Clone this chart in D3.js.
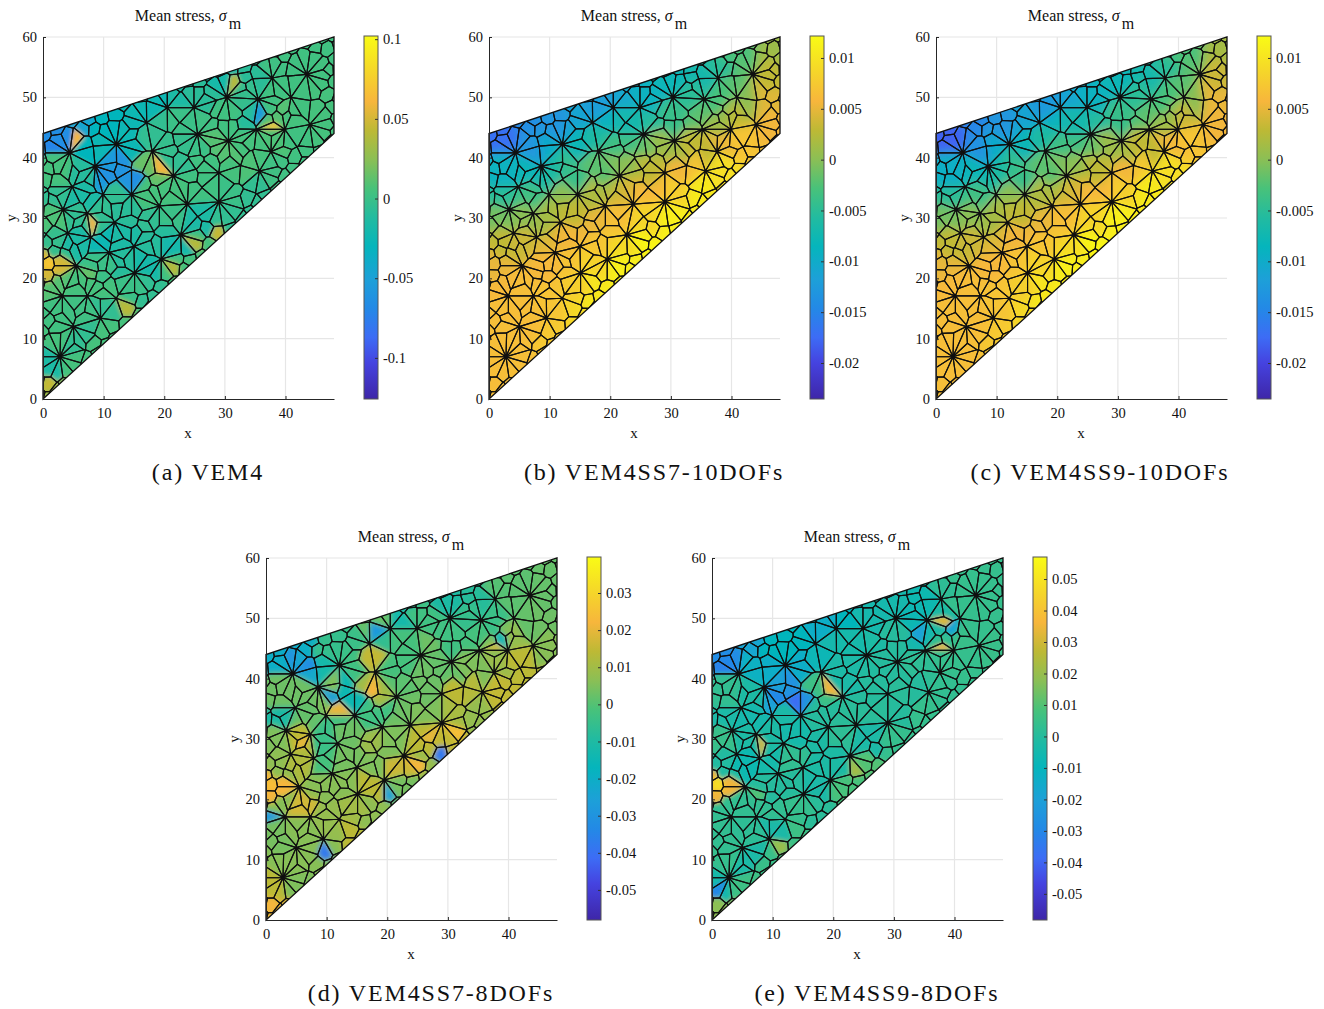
<!DOCTYPE html>
<html lang="en">
<head>
<meta charset="UTF-8">
<title>Mean stress panels</title>
<script src="https://d3js.org/d3.v7.min.js"></script>
<style>
    body { margin: 0; background: #fff; }
    text { font-family: "Liberation Serif", serif; fill: #111; }
    .axis text { font-size: 14.5px; font-family: "Liberation Serif", serif; }
    .bar-axis text { font-size: 14.5px; }
    .caption { font-size: 24px; letter-spacing: 1.85px; text-anchor: middle; }
    .title { font-size: 16px; text-anchor: middle; }
    .label { font-size: 15px; text-anchor: middle; }
</style>
</head>
<body>
<svg id="chart" width="1324" height="1009"></svg>
<script>
// panel order: a, b, c, d, e
const captions = ["(a) VEM4", "(b) VEM4SS7-10DOFs", "(c) VEM4SS9-10DOFs", "(d) VEM4SS7-8DOFs", "(e) VEM4SS9-8DOFs"];
const captionCentres = [208, 654, 1100, 431, 877];
const plotLefts = [43, 489, 936, 266, 712];
const plotTops = [37, 37, 37, 558, 558];

const xTicks = [0, 10, 20, 30, 40];
const yTicks = [0, 10, 20, 30, 40, 50, 60];
const barRanges = [[-0.1258, 0.102], [-0.02354, 0.01216], [-0.02354, 0.01216], [-0.0581, 0.0397], [-0.0583, 0.057]];
const barTicks = [
    [-0.1, -0.05, 0, 0.05, 0.1],
    [-0.02, -0.015, -0.01, -0.005, 0, 0.005, 0.01],
    [-0.02, -0.015, -0.01, -0.005, 0, 0.005, 0.01],
    [-0.05, -0.04, -0.03, -0.02, -0.01, 0, 0.01, 0.02, 0.03],
    [-0.05, -0.04, -0.03, -0.02, -0.01, 0, 0.01, 0.02, 0.03, 0.04, 0.05]
];

const membrane = [[0, 0], [48, 44], [48, 60], [0, 44]];

// high valence mesh nodes
const hubs = [[12.1,42.2],[4.4,40.8],[18,41.1],[17.1,45.8],[20.5,48.3],[24.9,48.3],[25.5,43.9],[30.3,50],[35.5,49.7],[40.9,50],
    [43.5,53.8],[37.8,53.2],[35.2,44.7],[30.6,42.8],[39.9,44.7],[44,45.5],[37.6,41],[32.6,38.7],[35.7,37.8],[29,37.5],
    [21.5,37],[8.6,38.6],[4.8,35.2],[9.9,33.9],[14.6,33.9],[19.2,32],[23.8,32.3],[29,32.7],[3.3,31.4],[7.3,30.8],
    [11.8,29.3],[4.1,27.5],[7.9,26.8],[15,25.3],[10.9,24.3],[19.5,23.2],[22.7,27.2],[5.5,22.1],[15.1,20.9],[12.1,16.7],
    [3.2,17.1],[7.3,17.1],[9.5,13.4],[5,12],[2.8,7]];
const extraSeeds = [[46.8,58.2],[47,54.5],[47,50.5],[47,47.3],[1,2.5],[1,5],[1,9.5],[1,13],[3.5,3.8]];

// stress readings in units of 1e-3, rows from y=58 down to y=2 in steps of 4
const readingColumns = [2, 6, 10, 14, 18, 22, 26, 30, 34, 38, 42, 46];
const readingRows = [58, 54, 50, 46, 42, 38, 34, 30, 26, 22, 18, 14, 10, 6, 2];
const rowFirstColumn = [10, 7, 4, 1, 0, 0, 0, 0, 0, 0, 0, 0, 0, 0, 0];

const stressA = [[3,3],[-18,-8,2,3,4],[-25,-15,-8,0,-3,3,4,5],[-45,-30,-25,-5,0,2,3,-10,10,5,5],
    [-65,-30,-25,-25,-5,-3,0,10,5,8,3],[5,-10,-55,-60,15,-5,3,5,8,2],[-5,-15,-15,-5,5,5,3,0,-5],[8,-5,-5,-8,-5,0,-15,-5],
    [-3,-15,-25,-15,-10,-20,5],[50,15,0,-10,-18,5],[10,5,5,0,-5],[3,2,-5,5],[5,-5,5],[-15,5],[30]];
const stressB = [[-3,1],[-8,-7,-5,-2,3],[-12,-10.5,-9,-7.5,-5,-3,0,4.5],[-14,-13,-11,-9,-7,-5.5,-4,-2,1,3,5.5],
    [-17,-13,-10,-8,-6,-3.5,-1.5,1,3,5,7],[-9,-8,-6,-4,-2,0,3,5.5,7,9.5],[-5,-3.5,-2,0,2,4,6,8,10.5],[-1,0,1.5,3,5,6.5,8.5,11],
    [3,3.5,4.5,5.5,7,9,11.5],[5,5.5,6,7,8.5,11],[6,6.5,7,8,10.5],[6.5,6.5,7,9],[6.5,6.5,7.5],[6.5,6.5],[6.5]];
const stressC = [[-3,1.5],[-8,-7,-5,-2,3.5],[-12.5,-11,-9,-7.5,-5,-3,0,5],[-15,-13,-11,-9,-7,-5.5,-4,-2,1,3.5,5.5],
    [-18,-13.5,-10,-8,-6,-3.5,-1.5,1,3,5.5,7],[-9.5,-8,-6,-4,-2,0,3,5.5,7.5,9.5],[-5,-3.5,-2,0,2,4,6,8,10.5],[-1,0,1.5,3,5,6.5,8.5,11],
    [3,3.5,4.5,5.5,7,9,11.5],[5,5.5,6,7,8.5,11],[6,6.5,7,8,10.5],[6.5,6.5,7,9],[6.5,6.5,7.5],[6.5,6.5],[6.5]];
const stressD = [[1,2],[-10,-8,0,1,2],[2,-12,-3,-3,-5,-4,2,3],[-20,-5,-4,-6,-2,3,-3,-2,5,8,6],
    [-20,-22,-12,-3,15,-2,3,2,5,9,14],[3,3,5,-14,10,1,3,14,13,15],[-10,2,3,-3,-3,3,5,11,8],[5,14,-4,3,9,5,14,15],
    [7,12,-2,4,5,16,8],[22,8,6,6,14,4],[6,17,8,10,7],[4,6,8,14],[6,6,6],[14,5],[20]];
const stressE = [[4,4],[-5,-6,2,4,4],[-14,-10,-5,-2,-7,-2,4,4],[-18,-10,-10,-5,-4,-2,0,-5,3,5,5],
    [-28,-12,-14,-14,-8,-3,-1,0,2,4,4],[3,-2,-20,-26,6,-3,0,1,0,3],[-3,-5,-8,-3,0,1,1,0,4],[5,-2,-2,-4,-2,2,-3,4],
    [-1,-6,-4,3,-2,-2,10],[35,10,0,0,-3,8],[3,3,3,4,1],[3,2,-3,6],[4,-3,5],[-4,6],[18]];

// single cells that stand out from their surroundings: x, y, value (1e-3)
const spotsA = [[4.9,42,60],[8.3,29.3,60],[18.7,38.7,60],[15.4,35.6,65],[0.8,22.1,70],[38.5,45,70],[30.8,51.3,40],[25.5,24.9,40],
    [28.9,28,45],[0.8,1.8,45],[14.8,14.9,40],[22.3,21.6,40],[1,42.2,-72],[11.2,37.3,-62],[15.6,37.6,-65],[35.8,47.2,-55]];
const spotsD = [[4.1,42,-30],[7.7,42.6,-32],[20.1,48.4,-28],[11,37.7,-25],[12.3,36,20],[17.7,39.9,22],[5,28.6,20],[30.3,31.6,24],
    [24,25.8,22],[26.2,30,20],[28.1,26.6,-38],[10.8,10.9,-38],[1.1,21.4,24],[2.2,17.3,18],[1.4,2.9,22],[37.8,47,-15],[38.6,45.5,18],[21,20.6,-25],[0.6,17.8,-28]];
const spotsE = [[1.1,22.2,48],[1.1,42,-32],[3.3,42.6,-30],[18.5,39.3,35],[14.3,37.4,-38],[11,37,-30],[8.5,29.3,30],[38.3,45.5,35],
    [37.5,49.2,32],[34.2,47,-20],[39.7,47.3,-18],[1.1,4,20],[1.9,5.1,-30],[24.3,23.9,22],[12,12.3,20]];

const panelStress = [stressA, stressB, stressC, stressD, stressE];
const panelSpots = [spotsA, [], [], spotsD, spotsE];
const panelBlur = [2.2, 5, 5, 2.4, 2.2];

const parulaStops = ["#3e26a8", "#4543e0", "#3d6cf5", "#2389e6", "#1da0d8", "#05b5bc", "#22bba0", "#48c27a", "#8bbf55", "#bdb935", "#f7b63c", "#f5d52a", "#f9fb15"];
const parulaAt = [0, 0.1, 0.17, 0.25, 0.33, 0.42, 0.5, 0.58, 0.66, 0.74, 0.82, 0.9, 1];
const parula = d3.scaleLinear().domain(parulaAt).range(parulaStops).interpolate(d3.interpolateRgb);

// mesh seeds: points where hub circles cross plus the free parts of each circle,
// so the cells really meet in one node at each hub. The gaps are then filled up.
function buildSeeds() {
    const radii = hubs.map((h, i) => {
        const near = hubs.filter((_, j) => j !== i).map(o => Math.hypot(o[0] - h[0], o[1] - h[1])).sort(d3.ascending);
        return Math.min(2.9, 0.52 * d3.mean(near.slice(0, 3)));
    });
    const insideOther = (p, a, b) => hubs.some((h, k) => k !== a && k !== b &&
        Math.hypot(p[0] - h[0], p[1] - h[1]) < radii[k] - 1e-6);
    const seeds = [];
    const tooClose = (p, gap) => seeds.some(s => Math.hypot(s[0] - p[0], s[1] - p[1]) < gap);

    hubs.forEach((p, i) => {
        hubs.forEach((q, j) => {
            if (j <= i) return;
            const d = Math.hypot(q[0] - p[0], q[1] - p[1]);
            if (d >= radii[i] + radii[j]) return;
            const a = (d * d + radii[i] * radii[i] - radii[j] * radii[j]) / (2 * d);
            const h = Math.sqrt(Math.max(0, radii[i] * radii[i] - a * a));
            const ux = (q[0] - p[0]) / d, uy = (q[1] - p[1]) / d;
            [1, -1].forEach(s => {
                const pt = [p[0] + a * ux - s * h * uy, p[1] + a * uy + s * h * ux];
                if (!insideOther(pt, i, j) && !tooClose(pt, 0.45)) seeds.push(pt);
            });
        });
    });
    hubs.forEach((h, i) => {
        const n = Math.ceil(2 * Math.PI * radii[i] / 1.75);
        for (let k = 0; k < n; k++) {
            const t = 2 * Math.PI * k / n;
            const pt = [h[0] + radii[i] * Math.cos(t), h[1] + radii[i] * Math.sin(t)];
            if (!insideOther(pt, i, i) && !tooClose(pt, 0.95)) seeds.push(pt);
        }
    });
    extraSeeds.forEach(p => { if (!tooClose(p, 0.8)) seeds.push(p); });
    // fill what the circles leave open, low discrepancy order so it stays repeatable
    for (let k = 1; k < 9000; k++) {
        const pt = [50 * ((k * 0.7548776662) % 1) - 1, 62 * ((k * 0.5698402910) % 1) - 1];
        const inDomain = pt[1] > pt[0] * 44 / 48 - 1 && pt[1] < 44 + pt[0] / 3 + 1;
        if (inDomain && !insideOther(pt, -1, -1) && !tooClose(pt, 1.6)) seeds.push(pt);
    }
    return seeds;
}

const seeds = buildSeeds();
const delaunay = d3.Delaunay.from(seeds);
const voronoi = delaunay.voronoi([-15, -15, 65, 75]);

function readingsOf(stress) {
    const list = [];
    stress.forEach((row, r) => row.forEach((v, c) => {
        list.push({ x: readingColumns[c + rowFirstColumn[r]], y: readingRows[r], v });
    }));
    return list;
}

function cellValues(stress, spots) {
    const list = readingsOf(stress);
    const values = seeds.map(s => d3.least(list, o => Math.hypot(o.x - s[0], o.y - s[1])).v);
    spots.forEach(s => { values[delaunay.find(s[0], s[1])] = s[2]; });
    return values;
}

const svg = d3.select("#chart");
const defs = svg.append("defs");

const gradient = defs.append("linearGradient").attr("id", "parulaBar")
    .attr("x1", 0).attr("y1", 1).attr("x2", 0).attr("y2", 0);
parulaAt.forEach((t, i) => gradient.append("stop").attr("offset", t).attr("stop-color", parulaStops[i]));

captions.forEach((caption, p) => {
    const left = plotLefts[p], top = plotTops[p];
    const x = d3.scaleLinear().domain([0, 48]).range([left, left + 291]);
    const y = d3.scaleLinear().domain([0, 60]).range([top + 362, top]);
    const g = svg.append("g");

    // grid
    g.append("g").selectAll("line").data(xTicks.slice(1)).join("line")
        .attr("x1", d => x(d)).attr("x2", d => x(d)).attr("y1", y(0)).attr("y2", y(60))
        .attr("stroke", "#e6e6e6").attr("stroke-width", 1.2);
    g.append("g").selectAll("line").data(yTicks.slice(1)).join("line")
        .attr("x1", x(0)).attr("x2", x(48)).attr("y1", d => y(d)).attr("y2", d => y(d))
        .attr("stroke", "#e6e6e6").attr("stroke-width", 1.2);

    // membrane cells
    const outline = d3.line().x(d => x(d[0])).y(d => y(d[1])).curve(d3.curveLinearClosed)(membrane);
    defs.append("clipPath").attr("id", `clip${p}`).append("path").attr("d", outline);
    defs.append("filter").attr("id", `soft${p}`).attr("x", "-5%").attr("y", "-5%").attr("width", "110%").attr("height", "110%")
        .append("feGaussianBlur").attr("stdDeviation", panelBlur[p]);

    const cells = seeds.map((_, i) => voronoi.cellPolygon(i));
    const pathOf = d3.line().x(d => x(d[0])).y(d => y(d[1]));
    const values = cellValues(panelStress[p], panelSpots[p]);
    const barExtent = barRanges[p];
    const unit = d3.scaleLinear().domain(barExtent).range([0, 1]).clamp(true);

    const clipped = g.append("g").attr("clip-path", `url(#clip${p})`);
    clipped.append("g").attr("filter", `url(#soft${p})`)
        .selectAll("path").data(cells).join("path")
        .attr("d", d => pathOf(d))
        .attr("fill", (d, i) => parula(unit(values[i] / 1000)))
        .attr("stroke", (d, i) => parula(unit(values[i] / 1000)));
    clipped.append("g").selectAll("path").data(cells).join("path")
        .attr("d", d => pathOf(d))
        .attr("fill", "none").attr("stroke", "#101010").attr("stroke-width", 1.15);
    g.append("path").attr("d", outline).attr("fill", "none").attr("stroke", "#101010").attr("stroke-width", 1.3);

    // axes
    g.append("g").attr("class", "axis").attr("transform", `translate(0,${y(0)})`)
        .call(d3.axisBottom(x).tickValues(xTicks).tickSize(-3).tickSizeOuter(0).tickPadding(9))
        .call(a => a.selectAll("path,line").attr("stroke", "#262626"));
    g.append("g").attr("class", "axis").attr("transform", `translate(${x(0)},0)`)
        .call(d3.axisLeft(y).tickValues(yTicks).tickSize(-3).tickSizeOuter(0).tickPadding(6))
        .call(a => a.selectAll("path,line").attr("stroke", "#262626"));

    g.append("text").attr("class", "label").attr("x", left + 145).attr("y", top + 401).text("x");
    g.append("text").attr("class", "label").attr("transform", `translate(${left - 27},${top + 181}) rotate(-90)`).text("y");

    const title = g.append("text").attr("class", "title").attr("x", left + 145).attr("y", top - 16);
    title.append("tspan").text("Mean stress, ");
    title.append("tspan").attr("font-style", "italic").text("\u03c3");
    title.append("tspan").attr("dy", 8).attr("dx", 2).text("m");

    // colour bar
    const barLeft = left + 321;
    const barY = d3.scaleLinear().domain(barExtent).range([top + 362, top - 1]);
    g.append("rect").attr("x", barLeft).attr("y", top - 1).attr("width", 14).attr("height", 363)
        .attr("fill", "url(#parulaBar)").attr("stroke", "#555").attr("stroke-width", 1);
    g.append("g").attr("class", "axis bar-axis").attr("transform", `translate(${barLeft + 14},0)`)
        .call(d3.axisRight(barY).tickValues(barTicks[p]).tickFormat(String).tickSize(-3).tickSizeOuter(0).tickPadding(5))
        .call(a => a.select(".domain").remove())
        .call(a => a.selectAll("line").attr("stroke", "#333"));

    svg.append("text").attr("class", "caption").attr("x", captionCentres[p]).attr("y", top + 443).text(caption);
});
</script>
</body>
</html>
